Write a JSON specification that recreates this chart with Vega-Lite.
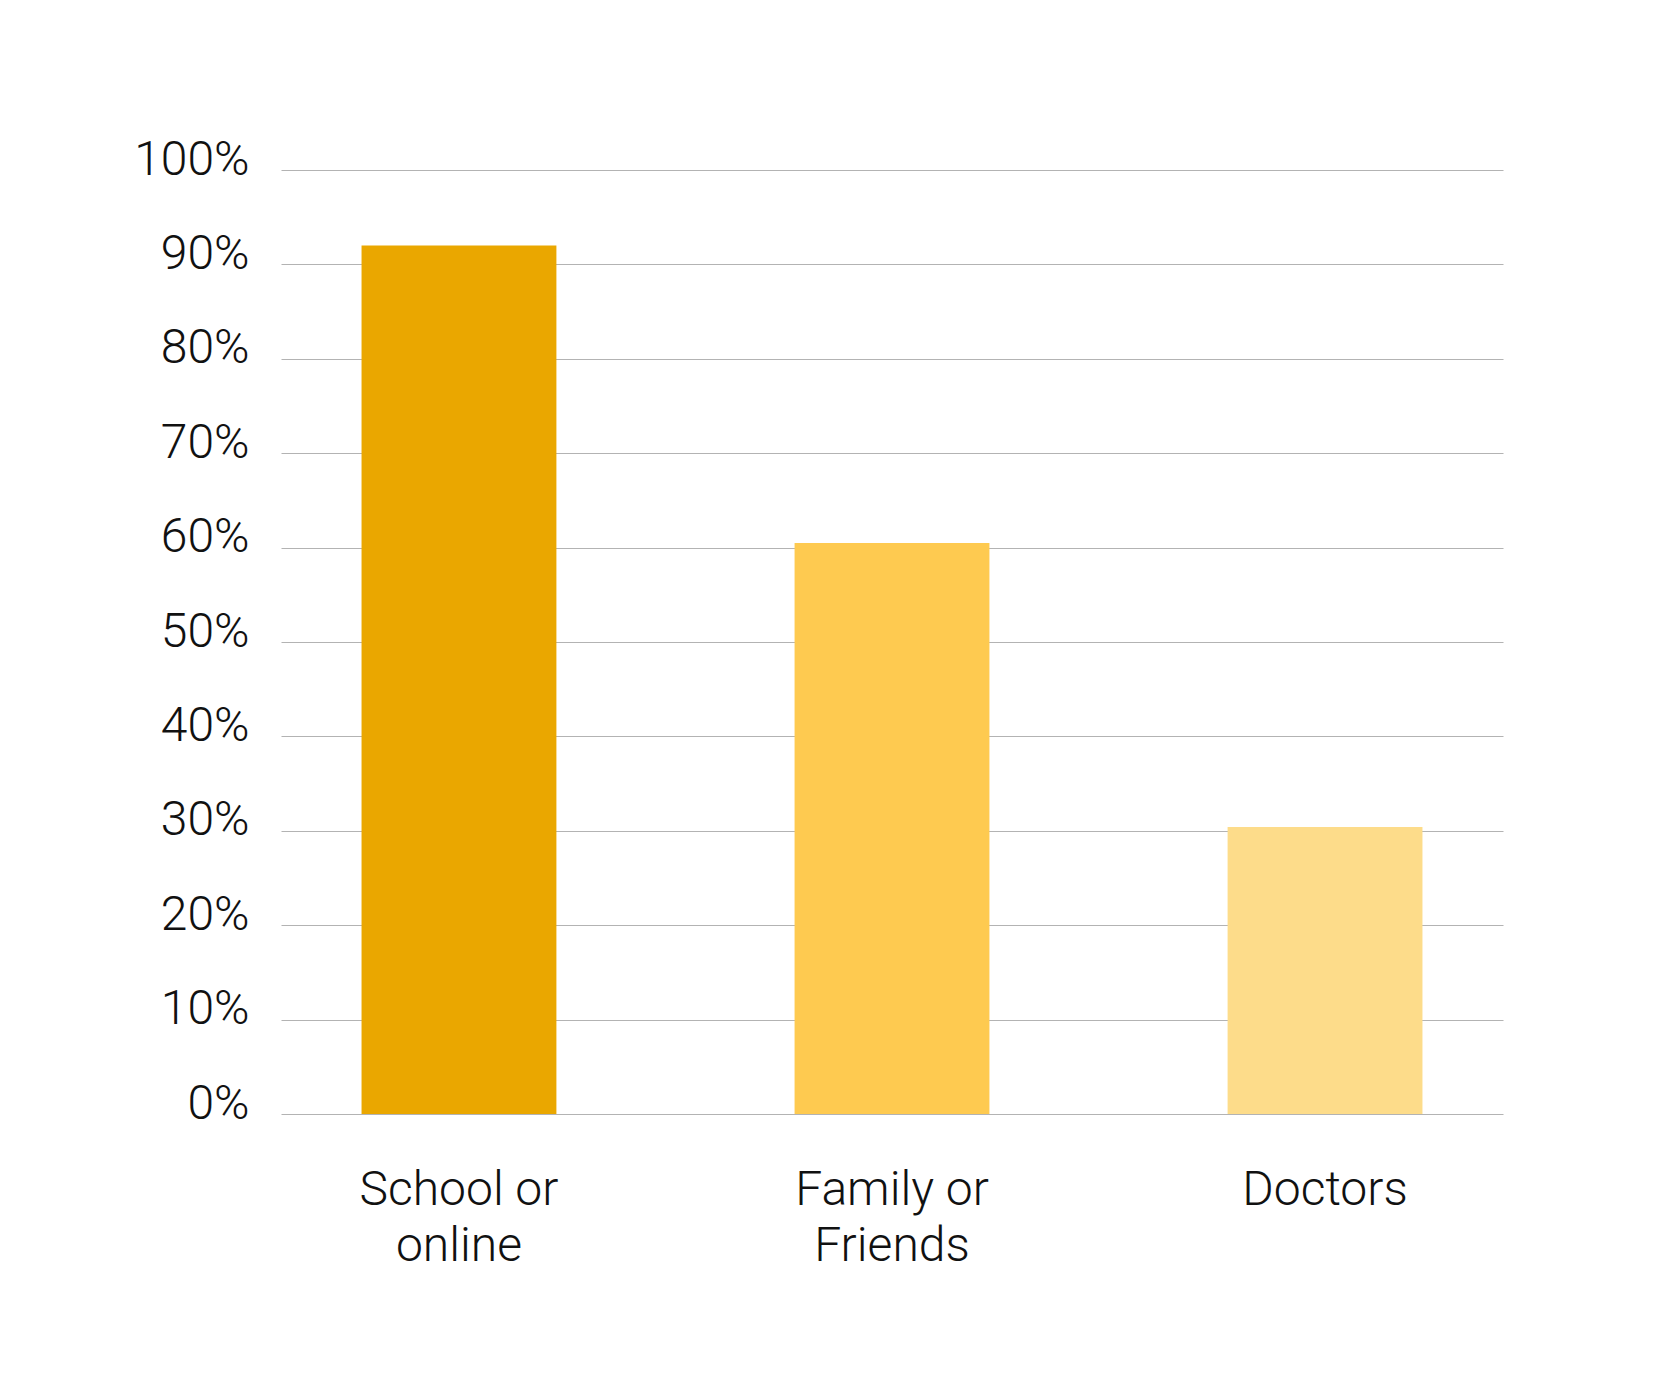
{
  "$schema": "https://vega.github.io/schema/vega-lite/v6.json",
  "autosize": "none",
  "width": 1222,
  "height": 944,
  "padding": {"left": 281, "top": 170, "right": 159, "bottom": 260},
  "background": "white",
  "data": {
    "values": [
      {"source": "School or online", "percent": 92},
      {"source": "Family or Friends", "percent": 60.5},
      {"source": "Doctors", "percent": 30.4}
    ]
  },
  "mark": {"type": "bar"},
  "encoding": {
    "x": {
      "field": "source",
      "type": "nominal",
      "sort": null,
      "scale": {"paddingInner": 0.55, "paddingOuter": 0.186},
      "axis": {
        "title": null,
        "domain": false,
        "ticks": false,
        "labelAngle": 0,
        "labelFont": "Roboto",
        "labelFontWeight": 300,
        "labelFontSize": 48,
        "labelColor": "#111111",
        "labelPadding": 52,
        "labelLineHeight": 56,
        "labelLimit": 600,
        "labelExpr": "datum.label == 'School or online' ? ['School or', 'online'] : datum.label == 'Family or Friends' ? ['Family or', 'Friends'] : datum.label"
      }
    },
    "y": {
      "field": "percent",
      "type": "quantitative",
      "scale": {"domain": [0, 100], "nice": false},
      "axis": {
        "title": null,
        "domain": false,
        "ticks": false,
        "values": [0, 10, 20, 30, 40, 50, 60, 70, 80, 90, 100],
        "labelExpr": "datum.value + '%'",
        "labelFont": "Roboto",
        "labelFontWeight": 300,
        "labelFontSize": 48,
        "labelColor": "#111111",
        "labelPadding": 32,
        "labelBaseline": "alphabetic",
        "labelOffset": 4,
        "labelLimit": 400,
        "grid": true,
        "gridColor": "#b3b3b3",
        "gridWidth": 1
      }
    },
    "color": {
      "field": "source",
      "type": "nominal",
      "sort": null,
      "scale": {
        "domain": ["School or online", "Family or Friends", "Doctors"],
        "range": ["#EAA700", "#FECA50", "#FDDC8A"]
      },
      "legend": null
    }
  },
  "config": {
    "view": {"stroke": null}
  }
}
